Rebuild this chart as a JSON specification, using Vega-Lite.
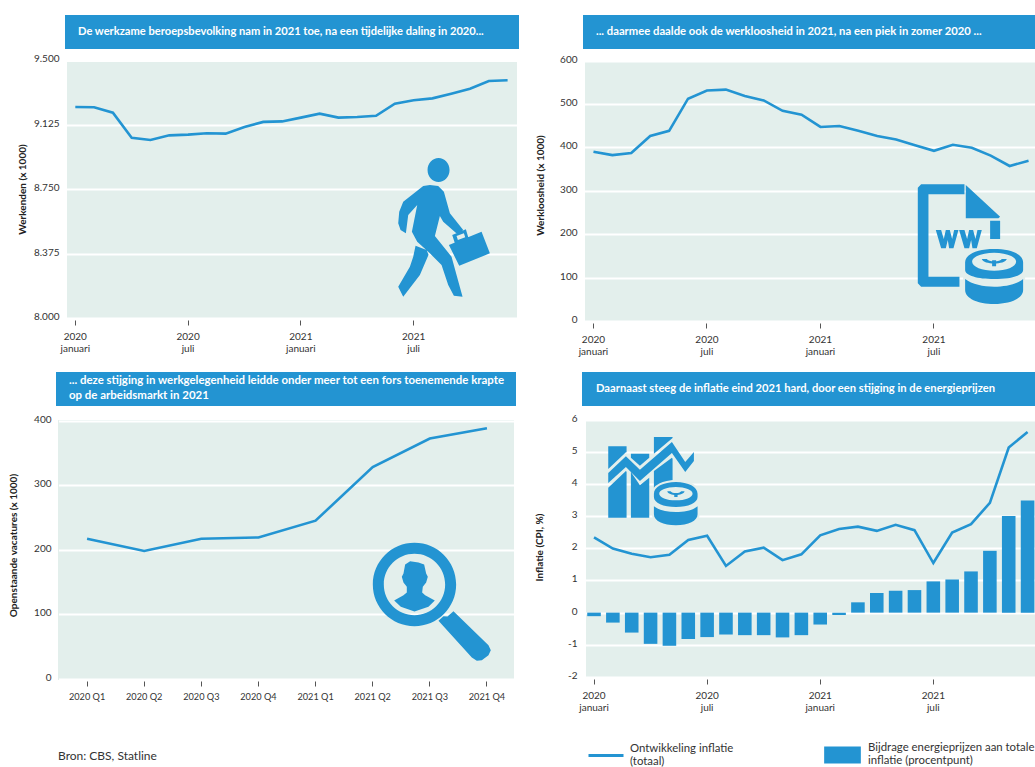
{"$schema":"https://vega.github.io/schema/vega-lite/v6.json","padding":{"top":15,"left":0,"right":0,"bottom":0},"spacing":0,"bounds":"full","config":{"font":"Lato","view":{"stroke":null},"title":{"font":"Lato"},"axis":{"labelFont":"Lato","titleFont":"Lato","labelColor":"#333333","labelFontSize":10,"titleColor":"#222222","titleFontSize":10,"titleFontWeight":"bold","gridColor":"#ffffff","gridWidth":2,"domain":false,"labelOverlap":false}},"vconcat":[
{"hconcat":[
{"width":65,"height":1,"data":{"values":[{}]},"mark":{"type":"rect","opacity":0},"encoding":{}},
{"width":454,"height":34,"view":{"fill":"#2394d2"},"data":{"values":[{"kop":"De werkzame beroepsbevolking nam in 2021 toe, na een tijdelijke daling in 2020..."}]},"mark":{"type":"text","align":"left","baseline":"middle","color":"#ffffff","fontWeight":"bold","fontSize":11.15,"lineBreak":"\n"},"encoding":{"text":{"field":"kop"},"x":{"value":13},"y":{"value":17}}},
{"width":64,"height":1,"data":{"values":[{}]},"mark":{"type":"rect","opacity":0},"encoding":{}},
{"width":452,"height":34,"view":{"fill":"#2394d2"},"data":{"values":[{"kop":"... daarmee daalde ook de werkloosheid in 2021, na een piek in zomer 2020 ..."}]},"mark":{"type":"text","align":"left","baseline":"middle","color":"#ffffff","fontWeight":"bold","fontSize":11.28,"lineBreak":"\n"},"encoding":{"text":{"field":"kop"},"x":{"value":13},"y":{"value":17}}}
],"spacing":0,"bounds":"flush","align":"none"},
{"width":1,"height":4,"data":{"values":[{}]},"mark":{"type":"rect","opacity":0},"encoding":{}},
{"hconcat":[
{"width":67,"height":1,"data":{"values":[{}]},"mark":{"type":"rect","opacity":0},"encoding":{}},
{"width":450,"height":256,"view":{"fill":"#e3efec"},"layer":[
{"data":{"values":[{"maand":"2020 januari","werkenden":9227},{"maand":"2020 februari","werkenden":9225},{"maand":"2020 maart","werkenden":9194},{"maand":"2020 april","werkenden":9048},{"maand":"2020 mei","werkenden":9035},{"maand":"2020 juni","werkenden":9062},{"maand":"2020 juli","werkenden":9066},{"maand":"2020 augustus","werkenden":9074},{"maand":"2020 september","werkenden":9072},{"maand":"2020 oktober","werkenden":9110},{"maand":"2020 november","werkenden":9140},{"maand":"2020 december","werkenden":9143},{"maand":"2021 januari","werkenden":9165},{"maand":"2021 februari","werkenden":9188},{"maand":"2021 maart","werkenden":9165},{"maand":"2021 april","werkenden":9169},{"maand":"2021 mei","werkenden":9176},{"maand":"2021 juni","werkenden":9246},{"maand":"2021 juli","werkenden":9266},{"maand":"2021 augustus","werkenden":9277},{"maand":"2021 september","werkenden":9304},{"maand":"2021 oktober","werkenden":9333},{"maand":"2021 november","werkenden":9378},{"maand":"2021 december","werkenden":9382}]},
"mark":{"type":"line","color":"#2394d2","strokeWidth":2.6,"strokeJoin":"miter"},
"encoding":{"x":{"field":"maand","type":"nominal","sort":null,"scale":{"type":"band","range":[-1.1,450]},"axis":{"title":null,"values":["2020 januari","2020 juli","2021 januari","2021 juli"],"labelExpr":"split(datum.value,' ')","labelAngle":0,"labelPadding":6,"labelLineHeight":12,"tickColor":"#555555","tickSize":5,"offset":2,"grid":false}},"y":{"field":"werkenden","type":"quantitative","scale":{"domain":[8000,9500],"range":[256,-2],"nice":false},"axis":{"title":"Werkenden (x 1000)","values":[8000,8375,8750,9125,9500],"labelExpr":"replace(format(datum.value,','),',','.')","labelOffset":-1.5,"labelPadding":8,"labelOverlap":false,"ticks":false,"grid":true,"titleX":-45,"titleY":127,"titleBaseline":"middle"}}}},
{"data":{"values":[{"maand":"2021 september","werkenden":8529}]},"mark":{"type":"point","filled":true,"color":"#2394d2","opacity":1,"size":0.4444,"shape":"M-49,-171 C-49,-191 -34,-207 -16,-207 C2,-207 17,-191 17,-171 C17,-151 2,-135 -16,-135 C-34,-135 -49,-151 -49,-171 Z M-42,-126 L-17,-123 L0,-106 L18,-41 L58,9 L40,21 L-2,-16 L-12,-33 L-27,27 L23,89 L38,144 L56,209 L30,206 L13,174 L-7,114 L-42,79 L-80,44 L-96,14 L-80,-66 L-107,-36 L-114,19 L-130,9 L-137,-11 L-134,-46 L-122,-76 L-62,-123 Z M-85,56 L-52,69 L-46,83 L-72,144 L-122,209 L-137,179 L-102,119 L-92,89 Z M15,54 L113,14 L138,79 L46,116 Z M25,24 L66,7 L73,31 L33,49 Z M38,27 L42,39 L64,31 L60,19 Z"},"encoding":{"x":{"field":"maand","type":"nominal","sort":null,"bandPosition":0.11},"y":{"field":"werkenden","type":"quantitative"}}}
]},
{"width":68,"height":1,"data":{"values":[{}]},"mark":{"type":"rect","opacity":0},"encoding":{}},
{"width":450,"height":259,"view":{"fill":"#e3efec"},"layer":[
{"data":{"values":[{"maand":"2020 januari","werkloos":390},{"maand":"2020 februari","werkloos":382},{"maand":"2020 maart","werkloos":387},{"maand":"2020 april","werkloos":426},{"maand":"2020 mei","werkloos":438},{"maand":"2020 juni","werkloos":512},{"maand":"2020 juli","werkloos":531},{"maand":"2020 augustus","werkloos":533},{"maand":"2020 september","werkloos":518},{"maand":"2020 oktober","werkloos":508},{"maand":"2020 november","werkloos":484},{"maand":"2020 december","werkloos":475},{"maand":"2021 januari","werkloos":447},{"maand":"2021 februari","werkloos":449},{"maand":"2021 maart","werkloos":438},{"maand":"2021 april","werkloos":426},{"maand":"2021 mei","werkloos":418},{"maand":"2021 juni","werkloos":405},{"maand":"2021 juli","werkloos":392},{"maand":"2021 augustus","werkloos":406},{"maand":"2021 september","werkloos":399},{"maand":"2021 oktober","werkloos":381},{"maand":"2021 november","werkloos":357},{"maand":"2021 december","werkloos":369}]},
"mark":{"type":"line","color":"#2394d2","strokeWidth":2.6,"strokeJoin":"miter"},
"encoding":{"x":{"field":"maand","type":"nominal","sort":null,"scale":{"type":"band","range":[-1,453]},"axis":{"title":null,"values":["2020 januari","2020 juli","2021 januari","2021 juli"],"labelExpr":"split(datum.value,' ')","labelAngle":0,"labelPadding":6,"labelLineHeight":12,"tickColor":"#555555","tickSize":5,"offset":2,"grid":false}},"y":{"field":"werkloos","type":"quantitative","scale":{"domain":[0,600],"range":[259,-1.5],"nice":false},"axis":{"title":"Werkloosheid (x 1000)","values":[0,100,200,300,400,500,600],"labelOffset":-1.5,"labelPadding":8,"labelOverlap":false,"ticks":false,"grid":true,"titleX":-45,"titleY":123,"titleBaseline":"middle"}}}},
{"data":{"values":[{"maand":"2021 september","werkloos":175}]},"mark":{"type":"point","filled":true,"color":"#2394d2","opacity":1,"size":0.4444,"shape":"M-162,-172 L-152,-182 L-22,-182 L-22,-152 L-130,-152 L-130,95 L-37,95 L-37,125 L-152,125 L-162,115 Z M-18,-180 L85,-85 L80,-80 L-18,-80 Z M55,-73 L85,-73 L85,-18 L55,-18 Z M-108,-45 L-92,-45 L-84,-18 L-78,-45 L-66,-45 L-59,-18 L-53,-45 L-40,-45 L-55,10 L-68,10 L-72,-15 L-78,10 L-92,10 Z M-38,-45 L-22,-45 L-14,-18 L-8,-45 L4,-45 L11,-18 L17,-45 L30,-45 L15,10 L2,10 L-2,-15 L-8,10 L-22,10 Z"},"encoding":{"x":{"field":"maand","type":"nominal","sort":null},"y":{"field":"werkloos","type":"quantitative"}}},
{"data":{"values":[{"maand":"2021 september","werkloos":175}]},"mark":{"type":"point","filled":true,"color":"#e3efec","stroke":"#e3efec","strokeWidth":4,"opacity":1,"size":0.4444,"shape":"M-20,52 C-20,27 18,12 67,12 C116,12 154,27 154,52 L154,135 C154,160 116,177 67,177 C18,177 -20,160 -20,135 Z"},"encoding":{"x":{"field":"maand","type":"nominal","sort":null},"y":{"field":"werkloos","type":"quantitative"}}},
{"data":{"values":[{"maand":"2021 september","werkloos":175}]},"mark":{"type":"point","filled":true,"color":"#2394d2","opacity":1,"size":0.4444,"shape":"M-20,52 C-20,27 18,12 67,12 C116,12 154,27 154,52 L154,75 C154,92 116,102 67,102 C18,102 -20,92 -20,75 Z M1,50 C1,65 31,77 67,77 C103,77 133,65 133,50 C133,35 103,23 67,23 C31,23 1,35 1,50 Z M30,42 L45,42 C50,52 85,52 90,42 L105,42 C100,60 35,60 30,42 Z M61,46 L73,46 L73,64 L61,64 Z M-20,102 C0,118 35,125 67,125 C100,125 135,118 154,102 L154,135 C154,160 116,177 67,177 C18,177 -20,160 -20,135 Z"},"encoding":{"x":{"field":"maand","type":"nominal","sort":null},"y":{"field":"werkloos","type":"quantitative"}}}
]}
],"spacing":0,"bounds":"flush","align":"none"},
{"width":1,"height":16,"data":{"values":[{}]},"mark":{"type":"rect","opacity":0},"encoding":{}},
{"hconcat":[
{"width":56,"height":1,"data":{"values":[{}]},"mark":{"type":"rect","opacity":0},"encoding":{}},
{"width":460,"height":34,"view":{"fill":"#2394d2"},"data":{"values":[{"kop":"... deze stijging in werkgelegenheid leidde onder meer tot een fors toenemende krapte\nop de arbeidsmarkt in 2021"}]},"mark":{"type":"text","align":"left","baseline":"top","color":"#ffffff","fontWeight":"bold","fontSize":11.45,"lineHeight":14.5,"lineBreak":"\n"},"encoding":{"text":{"field":"kop"},"x":{"value":13},"y":{"value":3}}},
{"width":66,"height":1,"data":{"values":[{}]},"mark":{"type":"rect","opacity":0},"encoding":{}},
{"width":453,"height":34,"view":{"fill":"#2394d2"},"data":{"values":[{"kop":"Daarnaast steeg de inflatie eind 2021 hard, door een stijging in de energieprijzen"}]},"mark":{"type":"text","align":"left","baseline":"middle","color":"#ffffff","fontWeight":"bold","fontSize":11.2,"lineBreak":"\n"},"encoding":{"text":{"field":"kop"},"x":{"value":14},"y":{"value":17}}}
],"spacing":0,"bounds":"flush","align":"none"},
{"width":1,"height":7,"data":{"values":[{}]},"mark":{"type":"rect","opacity":0},"encoding":{}},
{"hconcat":[
{"width":58,"height":1,"data":{"values":[{}]},"mark":{"type":"rect","opacity":0},"encoding":{}},
{"width":456,"height":260,"view":{"fill":"#e3efec"},"title":{"text":"Bron: CBS, Statline","orient":"bottom","anchor":"start","frame":"group","offset":50,"fontSize":12,"fontWeight":"normal","color":"#333333"},"layer":[
{"data":{"values":[{"kwartaal":"2020 Q1","vacatures":217},{"kwartaal":"2020 Q2","vacatures":198},{"kwartaal":"2020 Q3","vacatures":217},{"kwartaal":"2020 Q4","vacatures":219},{"kwartaal":"2021 Q1","vacatures":245},{"kwartaal":"2021 Q2","vacatures":328},{"kwartaal":"2021 Q3","vacatures":372},{"kwartaal":"2021 Q4","vacatures":388}]},
"mark":{"type":"line","color":"#2394d2","strokeWidth":2.6,"strokeJoin":"miter"},
"encoding":{"x":{"field":"kwartaal","type":"nominal","sort":null,"scale":{"type":"band","range":[0.5,457.5]},"axis":{"title":null,"labelAngle":0,"labelPadding":6,"labelFontSize":9.2,"tickColor":"#555555","tickSize":5,"offset":1,"grid":false}},"y":{"field":"vacatures","type":"quantitative","scale":{"domain":[0,400],"range":[259,0.5],"nice":false},"axis":{"title":"Openstaande vacatures (x 1000)","values":[0,100,200,300,400],"labelOffset":-1.5,"labelPadding":7,"labelOverlap":false,"ticks":false,"grid":true,"titleX":-45,"titleY":125,"titleBaseline":"middle"}}}},
{"data":{"values":[{"kwartaal":"2021 Q3","vacatures":122}]},"mark":{"type":"point","filled":true,"color":"#2394d2","opacity":1,"size":0.4444,"shape":"M-153,-47 C-153,-116 -97,-172 -28,-172 C41,-172 97,-116 97,-47 C97,22 41,78 -28,78 C-97,78 -153,22 -153,-47 Z M-120,-47 C-120,4 -79,45 -28,45 C23,45 64,4 64,-47 C64,-98 23,-139 -28,-139 C-79,-139 -120,-98 -120,-47 Z M-56,-107 L-41,-117 L-16,-113 L1,-107 L7,-80 L12,-70 L7,-53 L-3,-40 L-5,-23 L4,-15 L33,1 L14,20 L-28,34 L-69,20 L-89,1 L-61,-15 L-51,-23 L-51,-40 L-61,-53 L-66,-70 L-61,-80 Z M44,62 L59,48 L71,49 L89,33 L194,135 L201,150 L194,165 L174,180 L159,182 L144,172 Z"},"encoding":{"x":{"field":"kwartaal","type":"nominal","sort":null,"bandPosition":0.395},"y":{"field":"vacatures","type":"quantitative"}}}
]},
{"width":72,"height":1,"data":{"values":[{}]},"mark":{"type":"rect","opacity":0},"encoding":{}},
{"width":449,"height":257,"view":{"fill":"#e3efec"},"layer":[
{"data":{"values":[{"maand":"2020 januari","bijdrage":-0.11},{"maand":"2020 februari","bijdrage":-0.31},{"maand":"2020 maart","bijdrage":-0.62},{"maand":"2020 april","bijdrage":-0.97},{"maand":"2020 mei","bijdrage":-1.03},{"maand":"2020 juni","bijdrage":-0.82},{"maand":"2020 juli","bijdrage":-0.76},{"maand":"2020 augustus","bijdrage":-0.68},{"maand":"2020 september","bijdrage":-0.7},{"maand":"2020 oktober","bijdrage":-0.7},{"maand":"2020 november","bijdrage":-0.77},{"maand":"2020 december","bijdrage":-0.7},{"maand":"2021 januari","bijdrage":-0.37},{"maand":"2021 februari","bijdrage":-0.07},{"maand":"2021 maart","bijdrage":0.32},{"maand":"2021 april","bijdrage":0.61},{"maand":"2021 mei","bijdrage":0.68},{"maand":"2021 juni","bijdrage":0.7},{"maand":"2021 juli","bijdrage":0.97},{"maand":"2021 augustus","bijdrage":1.03},{"maand":"2021 september","bijdrage":1.28},{"maand":"2021 oktober","bijdrage":1.92},{"maand":"2021 november","bijdrage":3.0},{"maand":"2021 december","bijdrage":3.48}]},
"mark":{"type":"bar","clip":true},
"encoding":{"x":{"field":"maand","type":"nominal","sort":null,"scale":{"type":"band","range":[-1.4,451],"paddingInner":0.28,"paddingOuter":0.14},"axis":{"title":null,"values":["2020 januari","2020 juli","2021 januari","2021 juli"],"labelExpr":"split(datum.value,' ')","labelAngle":0,"labelPadding":6,"labelLineHeight":12,"tickColor":"#555555","tickSize":5,"offset":2,"grid":false}},"y":{"field":"bijdrage","type":"quantitative","scale":{"domain":[-2,6],"range":[257,-0.5],"nice":false},"axis":{"title":"Inflatie (CPI, %)","values":[-2,-1,0,1,2,3,4,5,6],"tickCount":9,"labelExpr":"'' + datum.value","labelOffset":-1.5,"labelPadding":9,"labelOverlap":false,"ticks":false,"grid":true,"titleX":-47,"titleY":127,"titleBaseline":"middle"}},"fill":{"datum":"Bijdrage energieprijzen aan totale\ninflatie (procentpunt)","scale":{"range":["#2394d2"]},"legend":{"orient":"none","legendX":824,"legendY":714.5,"title":null,"padding":0,"symbolType":"M-1,-0.08H1V0.84H-1Z","symbolSize":1347,"symbolStrokeWidth":0,"symbolOpacity":1,"labelExpr":"split(datum.label,'\\n')","labelFontSize":11.4,"labelColor":"#333333","labelOffset":7,"labelLimit":400,"labelFont":"Lato","labelBaseline":"middle"}}}},
{"data":{"values":[{"maand":"2020 januari","inflatie":2.34},{"maand":"2020 februari","inflatie":1.99},{"maand":"2020 maart","inflatie":1.83},{"maand":"2020 april","inflatie":1.72},{"maand":"2020 mei","inflatie":1.8},{"maand":"2020 juni","inflatie":2.26},{"maand":"2020 juli","inflatie":2.39},{"maand":"2020 augustus","inflatie":1.45},{"maand":"2020 september","inflatie":1.9},{"maand":"2020 oktober","inflatie":2.02},{"maand":"2020 november","inflatie":1.63},{"maand":"2020 december","inflatie":1.81},{"maand":"2021 januari","inflatie":2.4},{"maand":"2021 februari","inflatie":2.6},{"maand":"2021 maart","inflatie":2.67},{"maand":"2021 april","inflatie":2.54},{"maand":"2021 mei","inflatie":2.73},{"maand":"2021 juni","inflatie":2.56},{"maand":"2021 juli","inflatie":1.54},{"maand":"2021 augustus","inflatie":2.49},{"maand":"2021 september","inflatie":2.75},{"maand":"2021 oktober","inflatie":3.41},{"maand":"2021 november","inflatie":5.13},{"maand":"2021 december","inflatie":5.61}]},
"mark":{"type":"line","strokeWidth":2.6,"strokeJoin":"miter","clip":true},
"encoding":{"x":{"field":"maand","type":"nominal","sort":null},"y":{"field":"inflatie","type":"quantitative"},"stroke":{"datum":"Ontwikkeling inflatie\n(totaal)","scale":{"range":["#2394d2"]},"legend":{"orient":"none","legendX":587,"legendY":714.5,"title":null,"padding":0,"symbolType":"M-1,0.4H1","symbolSize":1225,"symbolStrokeWidth":3,"symbolFillColor":"transparent","labelExpr":"split(datum.label,'\\n')","labelFontSize":11.4,"labelColor":"#333333","labelOffset":5,"labelLimit":400,"labelFont":"Lato","labelBaseline":"middle"}}}},
{"data":{"values":[{"maand":"2020 april","inflatie":4.11}]},"mark":{"type":"point","filled":true,"color":"#2394d2","opacity":1,"size":0.4444,"shape":"M-127,-22 L-74,-72 L-32,-32 L64,-115 L104,-55 L130,-85 L130,-58 L104,-25 L64,-82 L-32,2 L-74,-40 L-127,8 Z M-127,-102 L-72,-102 L-72,-84 L-74,-84 L-127,-34 Z M-127,22 L-74,-28 L-72,-26 L-72,112 L-127,112 Z M-59,-80 L-4,-80 L-4,-68 L-32,-44 L-59,-68 Z M-59,-25 L-32,15 L-4,-8 L-4,112 L-59,112 Z M10,-130 L66,-130 L66,-127 L10,-80 Z M10,-28 L64,-68 L66,-65 L66,0 L10,25 Z"},"encoding":{"x":{"field":"maand","type":"nominal","sort":null},"y":{"field":"inflatie","type":"quantitative"}}},
{"data":{"values":[{"maand":"2020 april","inflatie":4.11}]},"mark":{"type":"point","filled":true,"color":"#e3efec","stroke":"#e3efec","strokeWidth":4,"opacity":1,"size":0.4444,"shape":"M10,40 C10,20 38,5 76,5 C113,5 141,20 141,40 L141,102 C141,122 113,135 76,135 C38,135 10,122 10,102 Z"},"encoding":{"x":{"field":"maand","type":"nominal","sort":null},"y":{"field":"inflatie","type":"quantitative"}}},
{"data":{"values":[{"maand":"2020 april","inflatie":4.11}]},"mark":{"type":"point","filled":true,"color":"#2394d2","opacity":1,"size":0.4444,"shape":"M10,40 C10,20 38,5 76,5 C113,5 141,20 141,40 L141,50 C141,68 113,80 76,80 C38,80 10,68 10,50 Z M26,40 C26,51 48,60 76,60 C104,60 126,51 126,40 C126,29 104,20 76,20 C48,20 26,29 26,40 Z M50,33 L60,33 C65,41 87,41 92,33 L102,33 C98,48 54,48 50,33 Z M71,38 L81,38 L81,50 L71,50 Z M10,78 C25,90 48,95 76,95 C103,95 128,90 141,78 L141,102 C141,122 113,135 76,135 C38,135 10,122 10,102 Z"},"encoding":{"x":{"field":"maand","type":"nominal","sort":null},"y":{"field":"inflatie","type":"quantitative"}}}
]}
],"spacing":0,"bounds":"flush","align":"none"}
]}
